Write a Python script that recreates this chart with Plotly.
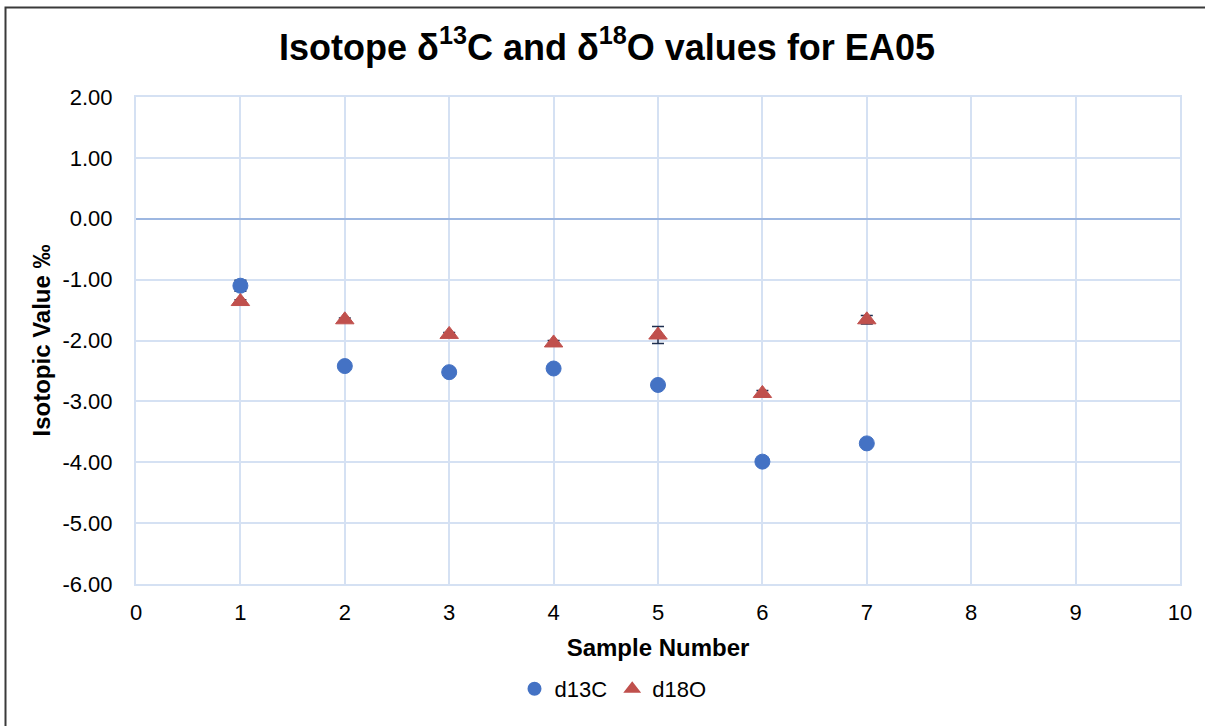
import plotly.graph_objects as go

samples = [1, 2, 3, 4, 5, 6, 7]
d13c = [-1.10, -2.42, -2.52, -2.46, -2.73, -3.99, -3.69]
d13c_err = [0.09, 0.03, 0.03, 0.03, 0.03, 0.03, 0.03]
d18o = [-1.36, -1.66, -1.90, -2.04, -1.91, -2.87, -1.66]
d18o_err = [0.03, 0.03, 0.03, 0.04, 0.14, 0.05, 0.07]

x_ticks = list(range(0, 11))
y_ticks = [2, 1, 0, -1, -2, -3, -4, -5, -6]
y_labels = ["%.2f" % v for v in y_ticks]

FONT = "Liberation Sans, Arial, sans-serif"
GRID = "#D5E1F3"
ERR = "#1F2F4F"

fig = go.Figure()
fig.add_trace(go.Scatter(
    x=samples, y=d13c, mode="markers", name="d13C",
    marker=dict(symbol="circle", size=15, color="#4472C4",
                line=dict(width=1, color="#4472C4")),
    error_y=dict(type="data", array=d13c_err, visible=True, color=ERR,
                 thickness=1.5, width=6),
))
fig.add_trace(go.Scatter(
    x=samples, y=d18o, mode="markers", name="d18O",
    marker=dict(symbol="triangle-up", size=16, color="#C0504D",
                line=dict(width=1, color="#C0504D")),
    error_y=dict(type="data", array=d18o_err, visible=True, color=ERR,
                 thickness=1.5, width=6),
))

L, R, T, B = 136, 25, 97, 142
W, H = 1205, 726
pw, ph = W - L - R, H - T - B

def px(xp):
    return (xp - L) / pw

def py(yp):
    return (H - B - yp) / ph

fig.update_layout(
    width=W, height=H,
    margin=dict(l=L, r=R, t=T, b=B),
    paper_bgcolor="white", plot_bgcolor="white",
    font=dict(family=FONT, color="#000000", size=22),
    title=dict(text="<b>Isotope δ<sup>13</sup>C and δ<sup>18</sup>O values for EA05</b>",
               x=px(607), xanchor="center", xref="paper", y=1 - 47 / H, yanchor="middle",
               font=dict(family=FONT, size=36, color="#000000")),
    xaxis=dict(range=[0, 10], tickvals=x_ticks, ticktext=[str(v) for v in x_ticks],
               showgrid=True, gridcolor=GRID, gridwidth=2,
               showline=True, linecolor=GRID, linewidth=2, mirror=True,
               zeroline=False, ticks="", ticklabelstandoff=8,
               tickfont=dict(size=22),
               title=dict(text="<b>Sample Number</b>", font=dict(size=24), standoff=15)),
    yaxis=dict(range=[-6, 2], tickvals=y_ticks, ticktext=y_labels,
               showgrid=True, gridcolor=GRID, gridwidth=2,
               showline=True, linecolor=GRID, linewidth=2, mirror=True,
               zeroline=True, zerolinecolor="#9DB7E1", zerolinewidth=2,
               ticks="", ticklabelstandoff=17,
               tickfont=dict(size=22),
               title=dict(text="<b>Isotopic Value ‰</b>", font=dict(size=24), standoff=5)),
    legend=dict(orientation="h", x=0.5 - 45 / pw, xanchor="center", y=py(689), yanchor="middle",
                font=dict(size=22), itemsizing="constant", itemwidth=30,
                bgcolor="rgba(0,0,0,0)", tracegroupgap=0),
    showlegend=True,
)

fig.add_shape(type="rect", xref="paper", yref="paper",
              x0=px(5.5), x1=px(1215), y0=py(7.5), y1=py(740),
              line=dict(color="#3a3a3a", width=2), fillcolor="rgba(0,0,0,0)", layer="below")

fig.write_html("out.html")
